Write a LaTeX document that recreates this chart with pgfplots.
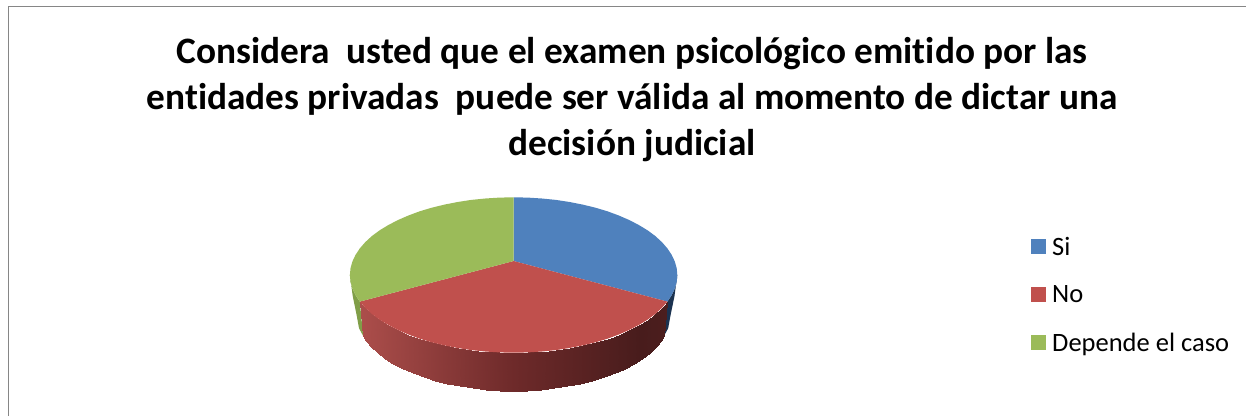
\documentclass[border=0pt]{standalone}
\usepackage{pgfplots}
\pgfplotsset{compat=1.18}
\usepackage{fontspec}
\setmainfont[Ligatures=NoCommon]{Carlito}
\definecolor{piblue}{RGB}{79,129,189}
\definecolor{pired}{RGB}{192,80,77}
\definecolor{pigreen}{RGB}{155,187,89}
\definecolor{sideblue}{RGB}{27,50,80}
\definecolor{sidegreen}{RGB}{128,158,72}
\definecolor{framegray}{RGB}{134,134,134}

\begin{document}
\begin{tikzpicture}
\useasboundingbox (0,0) rectangle (1246pt,416pt);
\begin{axis}[
  at={(0,0)}, anchor=south west,
  scale only axis, width=1246pt, height=416pt,
  xmin=0, xmax=1246, ymin=0, ymax=416, y dir=reverse,
  hide axis, clip=false,
  colormap={redside}{rgb255(0)=(172,78,75); rgb255(153)=(110,42,42); rgb255(280)=(72,28,28); rgb255(307)=(76,30,30)},
  title={Considera\ \ usted que el examen psicológico emitido por las\\
    entidades privadas\ \ puede ser válida al momento de dictar una\\
    decisión judicial},
  title style={at={(axis cs:632,106)}, anchor=center, align=center,
    font=\fontsize{37.3}{46}\selectfont\bfseries},
  legend style={at={(axis cs:1031,235)}, anchor=north west, draw=none, fill=none,
    font=\fontsize{26.5}{30}\selectfont, row sep=25pt, inner sep=0pt},
  legend cell align=left,
  legend image code/.code={\path[draw=none,fill=none] (0pt,0pt) rectangle (19pt,1pt); \fill[#1] (0pt,-7pt) rectangle (15pt,8pt);},
]
% sides first, the top face goes over them
\addplot[fill=sideblue, draw=none, forget plot] coordinates {
  (667.4,301.6) (671.7,295.1) (674.8,288.5) (676.7,281.8) (677.3,275) (674.5,296) (670.6,315) (668.2,328.2) (664,336)
} -- cycle;
\addplot[fill=sidegreen, draw=none, forget plot] coordinates {
  (359.8,301.6) (355.5,295.1) (352.4,288.5) (350.5,281.8) (349.9,275) (352.7,296) (356.6,315) (359,328.2) (363.2,336)
} -- cycle;
\addplot[surf, shader=interp, colormap name=redside, point meta=x, forget plot, mesh/rows=2] coordinates {
  (359.8,301.6) (362.4,304.7) (365.2,307.8) (371.8,313.9) (379.5,319.6) (388.2,324.9) (397.8,329.9) (408.4,334.5) (419.7,338.7) (431.7,342.3) (444.4,345.4) (457.6,348) (471.2,350.1) (485.2,351.5) (499.3,352.4) (513.6,352.7) (527.9,352.4) (542,351.5) (556,350.1) (569.6,348) (582.8,345.4) (595.5,342.3) (607.5,338.7) (618.8,334.5) (629.4,329.9) (639,324.9) (647.7,319.6) (655.4,313.9) (662,307.8) (664.8,304.7) (667.4,301.6)

  (363.2,336) (366.1,341) (371.3,347.1) (377.6,353) (385,358.6) (393.3,363.9) (402.6,368.7) (412.7,373.2) (423.5,377.3) (435.1,380.8) (447.3,383.9) (459.9,386.4) (473,388.4) (486.3,389.8) (499.9,390.7) (513.6,391) (527.3,390.7) (540.9,389.8) (554.2,388.4) (567.3,386.4) (579.9,383.9) (592.1,380.8) (603.7,377.3) (614.5,373.2) (624.6,368.7) (633.9,363.9) (642.2,358.6) (649.6,353) (655.9,347.1) (661.1,341) (664,336)
};
% top face
\addplot[fill=piblue, draw=none] coordinates {
  (513.6,261) (513.6,197.3) (527.9,197.6) (542,198.5) (556,199.9) (569.6,202) (582.8,204.6) (595.5,207.7) (607.5,211.3) (618.8,215.5) (629.4,220.1) (639,225.1) (647.7,230.4) (655.4,236.1) (662,242.2) (667.4,248.4) (671.7,254.9) (674.8,261.5) (676.7,268.2) (677.3,275) (676.7,281.8) (674.8,288.5) (671.7,295.1) (667.4,301.6)
} -- cycle;
\addplot[fill=pired, draw=none] coordinates {
  (513.6,261) (667.4,301.6) (662,307.8) (655.4,313.9) (647.7,319.6) (639,324.9) (629.4,329.9) (618.8,334.5) (607.5,338.7) (595.5,342.3) (582.8,345.4) (569.6,348) (556,350.1) (542,351.5) (527.9,352.4) (513.6,352.7) (499.3,352.4) (485.2,351.5) (471.2,350.1) (457.6,348) (444.4,345.4) (431.7,342.3) (419.7,338.7) (408.4,334.5) (397.8,329.9) (388.2,324.9) (379.5,319.6) (371.8,313.9) (365.2,307.8) (359.8,301.6)
} -- cycle;
\addplot[fill=pigreen, draw=none] coordinates {
  (513.6,261) (359.8,301.6) (355.5,295.1) (352.4,288.5) (350.5,281.8) (349.9,275) (350.5,268.2) (352.4,261.5) (355.5,254.9) (359.8,248.4) (365.2,242.2) (371.8,236.1) (379.5,230.4) (388.2,225.1) (397.8,220.1) (408.4,215.5) (419.7,211.3) (431.7,207.7) (444.4,204.6) (457.6,202) (471.2,199.9) (485.2,198.5) (499.3,197.6) (513.6,197.3)
} -- cycle;
\legend{Si,No,Depende el caso}
% chart frame, cut by the image edge
\addplot[framegray, line width=1.5pt, forget plot] coordinates {(8.5,416) (8.5,6.5) (1246,6.5)};
\end{axis}
\end{tikzpicture}
\end{document}
